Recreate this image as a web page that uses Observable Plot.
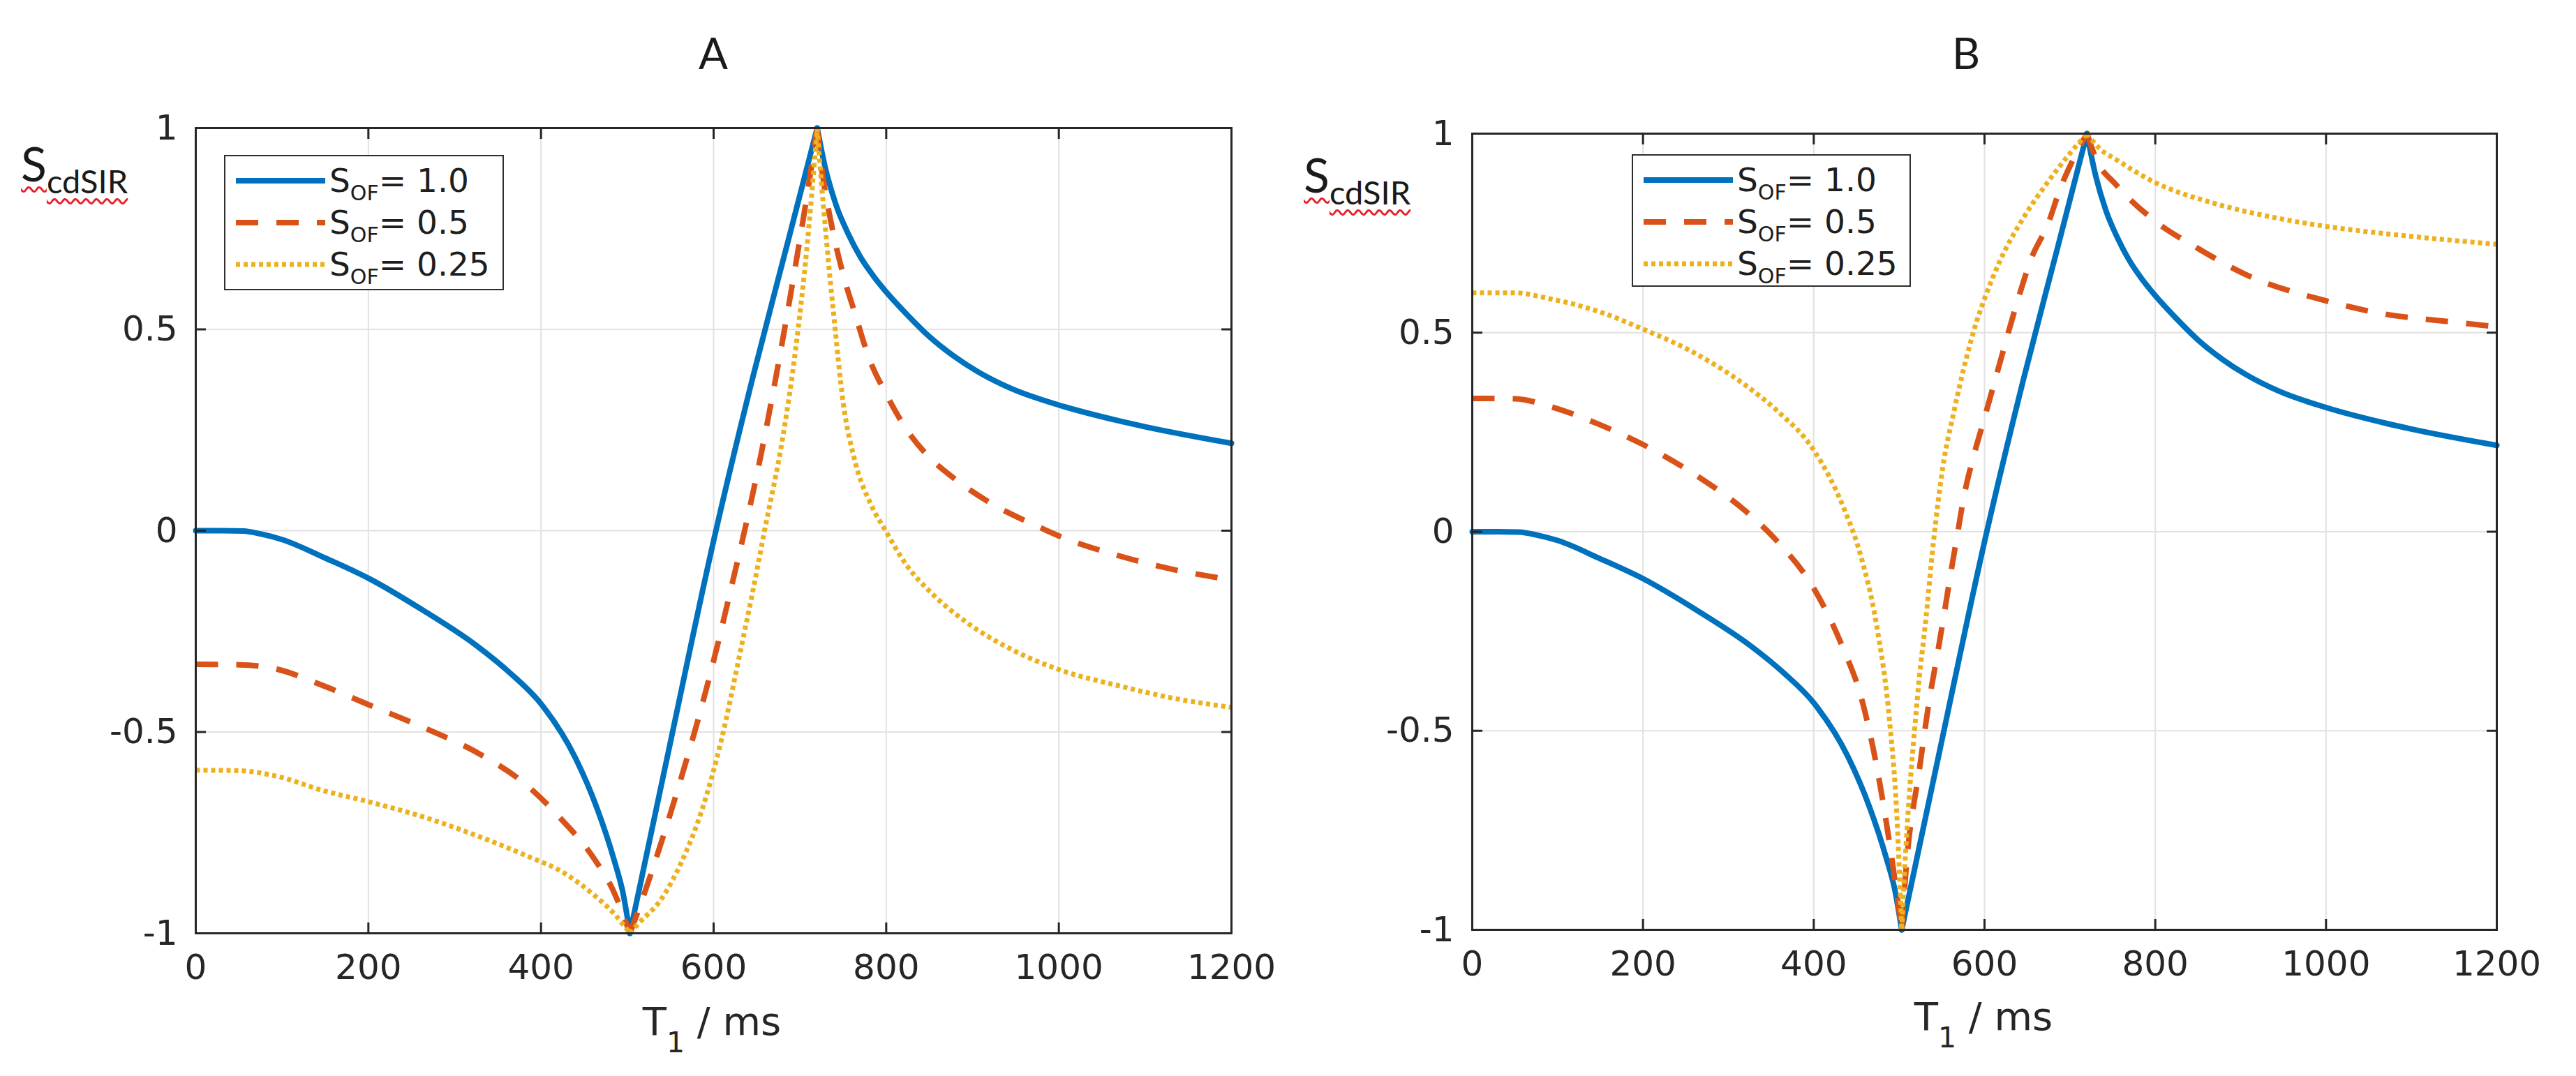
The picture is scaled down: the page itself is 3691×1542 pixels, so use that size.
<!DOCTYPE html>
<html>
<head>
<meta charset="utf-8">
<script src="https://cdn.jsdelivr.net/npm/d3@7"></script>
<script src="https://cdn.jsdelivr.net/npm/@observablehq/plot@0.6"></script>
<style>
  html, body { margin: 0; padding: 0; background: #fff; }
  #fig { position: relative; width: 3691px; height: 1542px; background: #fff; overflow: hidden; color: #262626; }
  .panel { position: absolute; top: 0; }
  .lbl { position: absolute; white-space: nowrap; line-height: 1; }
  .legend { position: absolute; background: #fff; border: 2.5px solid #2e2e2e; box-sizing: border-box; }
  .legend .sample { position: absolute; }
  .legend .txt { position: absolute; white-space: nowrap; line-height: 1; font-family: "DejaVu Sans"; font-size: 47px; color: #1e1e1e; }
  .wavy { text-decoration-line: underline; text-decoration-style: wavy; text-decoration-color: #e8202a; text-decoration-thickness: 3px; text-underline-offset: 7px; text-decoration-skip-ink: none; }
</style>
</head>
<body>
<div id="fig"></div>
<script>
// ---------------- data ----------------
const xTicks = [0, 200, 400, 600, 800, 1000, 1200];
const yTicks = [-1, -0.5, 0, 0.5, 1];
const yTickLabels = ["-1", "-0.5", "0", "0.5", "1"];

const seriesLabels = ["1.0", "0.5", "0.25"];
const seriesColors = ["#0072BD", "#D95319", "#EDB120"];
const panelTitles = ["A", "B"];

// S_OF = 1.0 (identical in both panels)
const blueT = [0, 30, 55, 75, 100, 150, 200, 265, 325, 365, 400, 440, 465, 485, 495, 503, 548, 600, 646, 686, 720, 729, 742, 756, 770, 785, 800, 824, 851, 878, 906, 946, 1000, 1069, 1100, 1200];
const blueS = [0, 0, -0.001, -0.008, -0.022, -0.068, -0.118, -0.2, -0.285, -0.355, -0.43, -0.565, -0.69, -0.82, -0.9, -1, -0.545, -0.025, 0.386, 0.717, 1, 0.905, 0.808, 0.737, 0.68, 0.633, 0.593, 0.537, 0.48, 0.434, 0.395, 0.352, 0.312, 0.273, 0.258, 0.217];

// Panel A, S_OF = 0.5
const redAT = [0, 50, 90, 150, 200, 265, 325, 385, 425, 460, 485, 503, 515, 540, 563, 587, 605, 620, 638, 655, 678, 695, 708, 720, 725, 737, 750, 764, 780, 800, 824, 851, 878, 919, 974, 1000, 1069, 1136, 1200];
const redAS = [-0.332, -0.333, -0.342, -0.387, -0.432, -0.49, -0.55, -0.635, -0.72, -0.81, -0.9, -1, -0.93, -0.77, -0.61, -0.43, -0.28, -0.145, 0.02, 0.19, 0.45, 0.66, 0.83, 1, 0.905, 0.756, 0.637, 0.538, 0.429, 0.339, 0.25, 0.18, 0.131, 0.071, 0.012, -0.013, -0.062, -0.098, -0.122];

// Panel A, S_OF = 0.25
const yelAT = [0, 50, 90, 150, 200, 265, 325, 385, 425, 462, 485, 503, 512, 540, 563, 587, 609, 630, 645, 659, 680, 695, 708, 720, 723, 731, 740, 750, 764, 783, 800, 824, 851, 892, 946, 1000, 1069, 1130, 1200];
const yelAS = [-0.595, -0.596, -0.608, -0.647, -0.673, -0.712, -0.757, -0.809, -0.848, -0.906, -0.952, -1, -0.978, -0.913, -0.822, -0.69, -0.52, -0.31, -0.155, 0, 0.23, 0.45, 0.7, 1, 0.915, 0.716, 0.518, 0.32, 0.171, 0.062, -0.003, -0.087, -0.152, -0.226, -0.296, -0.345, -0.385, -0.415, -0.439];

// Panel B, S_OF = 0.5
const redBT = [0, 50, 89, 147, 200, 262, 320, 358, 400, 435, 455, 474, 489, 503, 508, 524, 536, 545, 552, 560, 568, 576, 587, 600, 613, 639, 654, 675, 688, 705, 720, 731, 754, 800, 849, 908, 1000, 1065, 1143, 1200];
const redBS = [0.335, 0.334, 0.316, 0.271, 0.219, 0.142, 0.052, -0.026, -0.142, -0.296, -0.412, -0.593, -0.786, -1, -0.85, -0.593, -0.414, -0.305, -0.216, -0.11, -0.01, 0.09, 0.188, 0.286, 0.386, 0.582, 0.682, 0.777, 0.858, 0.94, 1, 0.935, 0.872, 0.78, 0.713, 0.644, 0.58, 0.548, 0.528, 0.515];

// Panel B, S_OF = 0.25
const yelBT = [0, 50, 89, 147, 200, 262, 320, 358, 400, 435, 455, 474, 489, 497, 503, 508, 513, 518, 523, 531, 540, 551, 564, 578, 591, 600, 618, 646, 673, 700, 720, 735, 754, 800, 869, 947, 1000, 1104, 1200];
const yelBS = [0.6, 0.6, 0.586, 0.554, 0.509, 0.447, 0.368, 0.302, 0.205, 0.06, -0.06, -0.24, -0.48, -0.7, -1, -0.79, -0.63, -0.5, -0.38, -0.226, -0.03, 0.16, 0.3, 0.43, 0.53, 0.585, 0.68, 0.79, 0.875, 0.95, 1, 0.962, 0.935, 0.877, 0.825, 0.786, 0.767, 0.741, 0.722];

// ---------------- styles ----------------
const dashes = [null, "32,26", "6,5"];
const widths = [8, 8, 7];
const caps = ["round", "butt", "butt"];
const ink = "#262626";
const gridColor = "#e2e2e2";

// split each curve into its three monotone pieces (fall, rise, decay) so the cusps stay sharp
function rows(T, S) {
  const iMin = S.indexOf(d3.min(S)), iMax = S.indexOf(d3.max(S));
  const out = [];
  T.forEach((t, i) => {
    if (i <= iMin) out.push({T: t, S: S[i], seg: 0});
    if (i >= iMin && i <= iMax) out.push({T: t, S: S[i], seg: 1});
    if (i >= iMax) out.push({T: t, S: S[i], seg: 2});
  });
  return out;
}

const panels = [
  {left: 0, width: 1845, margin: {l: 280, r: 81, t: 183, b: 205},
   series: [rows(blueT, blueS), rows(redAT, redAS), rows(yelAT, yelAS)],
   title: {x: 1022, base: 99}, ylab: {x: 30, base: 260}, xlab: {x: 1020, base: 1483},
   legend: {x: 321, y: 222, w: 401, h: 194}},
  {left: 1845, width: 1846, margin: {l: 264, r: 114, t: 191, b: 210},
   series: [rows(blueT, blueS), rows(redBT, redBS), rows(yelBT, yelBS)],
   title: {x: 2817, base: 99}, ylab: {x: 1868, base: 276}, xlab: {x: 2842, base: 1476},
   legend: {x: 2338, y: 221, w: 400, h: 190}}
];

const fig = document.getElementById("fig");
const yFmt = d => yTickLabels[yTicks.indexOf(d)];
const blank = () => "";

panels.forEach((p, k) => {
  const lineMarks = p.series.map((data, i) => Plot.line(data, {
    x: "T", y: "S", z: "seg", curve: "monotone-x",
    stroke: seriesColors[i], strokeWidth: widths[i],
    strokeDasharray: dashes[i] || undefined, strokeLinecap: caps[i], strokeLinejoin: "miter"
  }));
  const chart = Plot.plot({
    width: p.width, height: 1542,
    marginLeft: p.margin.l, marginRight: p.margin.r, marginTop: p.margin.t, marginBottom: p.margin.b,
    x: {domain: [0, 1200]},
    y: {domain: [-1, 1]},
    style: {fontFamily: "DejaVu Sans", fontSize: "50px", color: ink, background: "transparent", overflow: "visible"},
    marks: [
      Plot.gridX(xTicks, {stroke: gridColor, strokeOpacity: 1, strokeWidth: 2}),
      Plot.gridY(yTicks, {stroke: gridColor, strokeOpacity: 1, strokeWidth: 2}),
      ...lineMarks,
      Plot.frame({stroke: ink, strokeWidth: 3}),
      Plot.axisX(xTicks, {anchor: "bottom", tickSize: 0, tickPadding: 30, tickFormat: d => String(d), label: null}),
      Plot.axisX(xTicks, {anchor: "bottom", tickSize: -15, tickFormat: blank, label: null, strokeWidth: 3}),
      Plot.axisX(xTicks, {anchor: "top", tickSize: -15, tickFormat: blank, label: null, strokeWidth: 3}),
      Plot.axisY(yTicks, {anchor: "left", tickSize: 0, tickPadding: 26, tickFormat: yFmt, label: null}),
      Plot.axisY(yTicks, {anchor: "left", tickSize: -15, tickFormat: blank, label: null, strokeWidth: 3}),
      Plot.axisY(yTicks, {anchor: "right", tickSize: -15, tickFormat: blank, label: null, strokeWidth: 3})
    ]
  });
  chart.classList.add("panel");
  chart.style.left = p.left + "px";
  chart.style.position = "absolute";
  fig.appendChild(chart);

  // title
  place(panelTitles[k], p.title.x, p.title.base, 62, "Lato", true, "#1a1a1a");
  // y label S_cdSIR (with the spell-check squiggle of the original)
  place('<span class="wavy">S</span><span class="wavy" style="font-size:47px;vertical-align:-17px">cdSIR</span>',
        p.ylab.x, p.ylab.base, 68, "Lato", false, "#1a1a1a");
  // x label T1 / ms
  place('T<span style="font-size:41px;vertical-align:-25px">1</span> / ms', p.xlab.x, p.xlab.base, 56, "DejaVu Sans", true, ink);

  // legend
  const lg = document.createElement("div");
  lg.className = "legend";
  Object.assign(lg.style, {left: p.legend.x + "px", top: p.legend.y + "px", width: p.legend.w + "px", height: p.legend.h + "px"});
  seriesLabels.forEach((lab, i) => {
    const cy = 35 + 60 * i;
    const svg = d3.create("svg").attr("class", "sample").attr("width", 128).attr("height", 20)
      .style("left", "15px").style("top", (cy - 10) + "px");
    svg.append("line").attr("x1", 0).attr("x2", 128).attr("y1", 10).attr("y2", 10)
      .attr("stroke", seriesColors[i]).attr("stroke-width", widths[i])
      .attr("stroke-dasharray", dashes[i]).attr("stroke-linecap", "butt");
    lg.appendChild(svg.node());
    const t = document.createElement("div");
    t.className = "txt";
    t.innerHTML = `S<span style="font-size:30px;vertical-align:-12px">OF</span>= ${lab}`;
    t.style.left = "149px";
    t.style.top = (cy + 16 - 0.846 * 47) + "px";
    lg.appendChild(t);
  });
  fig.appendChild(lg);
});

function place(html, x, baseline, fs, family, center, color) {
  const asc = {"DejaVu Sans": 0.846, "Lato": 0.887}[family];
  const el = document.createElement("div");
  el.className = "lbl";
  el.innerHTML = html;
  el.style.fontFamily = `"${family}"`;
  el.style.fontSize = fs + "px";
  el.style.left = x + "px";
  el.style.top = (baseline - asc * fs) + "px";
  el.style.color = color;
  if (center) el.style.transform = "translateX(-50%)";
  fig.appendChild(el);
}
</script>
</body>
</html>
